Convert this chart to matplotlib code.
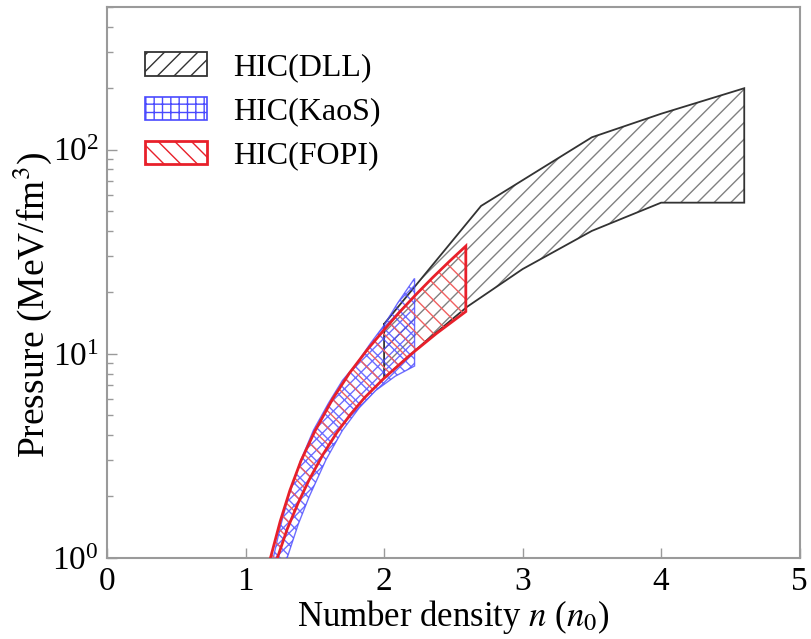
import numpy as np
import matplotlib
matplotlib.use("Agg")
import matplotlib.pyplot as plt
from matplotlib.patches import Patch
from matplotlib.ticker import LogLocator, NullFormatter, NullLocator

plt.rcParams["font.family"] = ["Liberation Serif", "DejaVu Serif"]
plt.rcParams["mathtext.fontset"] = "stix"
plt.rcParams["hatch.linewidth"] = 1.0

# HIC(DLL) band: upper and lower edges (n in n0, P in MeV/fm^3)
dll_n_upper = [2.0, 2.7, 3.5, 4.0, 4.6]
dll_p_upper = [14.0, 53.0, 115.0, 150.0, 200.0]
dll_n_lower = [2.0, 2.3, 2.6, 3.0, 3.5, 4.0, 4.6]
dll_p_lower = [7.6, 11.5, 17.0, 26.0, 40.0, 55.0, 55.0]

# HIC(KaoS) band
kaos_n_upper = [1.2, 1.25, 1.31, 1.4, 1.49, 1.6, 1.7, 1.8, 1.9, 2.0, 2.1, 2.22]
kaos_p_upper = [1.0, 1.41, 2.0, 3.02, 4.22, 5.75, 7.41, 8.91, 11.2, 13.8, 17.8, 23.4]
kaos_n_lower = [1.3, 1.38, 1.46, 1.58, 1.7, 1.82, 1.94, 2.08, 2.22]
kaos_p_lower = [1.0, 1.46, 2.0, 3.02, 4.22, 5.43, 6.61, 7.76, 8.71]

# HIC(FOPI) band
fopi_n_upper = [1.18, 1.25, 1.32, 1.4, 1.5, 1.63, 1.75, 1.88, 2.0, 2.11, 2.23, 2.35, 2.47, 2.59]
fopi_p_upper = [1.0, 1.51, 2.14, 2.99, 4.17, 6.03, 8.04, 10.5, 13.1, 15.96, 19.5, 23.6, 28.3, 33.7]
fopi_n_lower = [1.23, 1.3, 1.38, 1.46, 1.56, 1.66, 1.76, 1.86, 2.0, 2.19, 2.38, 2.59]
fopi_p_lower = [1.0, 1.38, 1.86, 2.42, 3.22, 4.12, 5.07, 6.1, 7.59, 9.89, 12.6, 16.1]

labels = ["HIC(DLL)", "HIC(KaoS)", "HIC(FOPI)"]


def band(ax, nu, pu, nl, pl, hatch, hatch_color, line_color, lw, z,
         alpha=1.0, closed=False):
    xs = list(nu) + list(nl)[::-1]
    ys = list(pu) + list(pl)[::-1]
    # hatch only (hatch takes the edge colour)
    ax.fill(xs, ys, facecolor="none", edgecolor=hatch_color, hatch=hatch,
            linewidth=0, zorder=z, alpha=alpha)
    if closed:
        xs = xs + xs[:1]
        ys = ys + ys[:1]
    # outline: upper edge, right edge, lower edge (left edge if closed)
    ax.plot(xs, ys, color=line_color, lw=lw, zorder=z + 0.5, alpha=alpha,
            solid_joinstyle="miter")


fig = plt.figure(figsize=(8.11, 6.39), dpi=100)
ax = fig.add_axes([0.132, 0.127, 0.854, 0.862])

band(ax, dll_n_upper, dll_p_upper, dll_n_lower, dll_p_lower,
     "//", "#808080", "#333333", 1.3, 2, closed=True)
band(ax, kaos_n_upper, kaos_p_upper, kaos_n_lower, kaos_p_lower,
     "xxx", "#4a4aff", "#4a4aff", 1.0, 3, alpha=0.8)
band(ax, fopi_n_upper, fopi_p_upper, fopi_n_lower, fopi_p_lower,
     "\\\\", "#f06060", "#e8202a", 2.0, 4)

ax.set_yscale("log")
ax.set_xlim(0, 5)
ax.set_ylim(1, 500)

ax.set_xticks([0, 1, 2, 3, 4, 5])
ax.xaxis.set_minor_locator(NullLocator())
ax.yaxis.set_major_locator(LogLocator(base=10, numticks=10))
ax.yaxis.set_minor_locator(LogLocator(base=10, subs=np.arange(2, 10), numticks=20))
ax.yaxis.set_minor_formatter(NullFormatter())

for s in ax.spines.values():
    s.set_color("#9a9a9a")
    s.set_linewidth(1.5)
ax.tick_params(which="both", direction="in", color="#9a9a9a", top=False,
               right=False, labelsize=24, width=1.0)
ax.tick_params(which="major", length=7, pad=6)
ax.tick_params(which="minor", length=4)

ax.set_xlabel(r"Number density $n$ ($n_0$)", fontsize=25, labelpad=1)
ax.set_ylabel(r"Pressure (MeV/fm$^3$)", fontsize=27)
ax.yaxis.set_label_coords(-0.077, 0.46)

handles = [
    Patch(facecolor="none", edgecolor="#333333", hatch="//", linewidth=1.3),
    Patch(facecolor="none", edgecolor="#4a4aff", hatch="++", linewidth=1.2),
    Patch(facecolor="none", edgecolor="#e8202a", hatch="\\\\", linewidth=2.0),
]
ax.legend(handles, labels, loc="upper left", bbox_to_anchor=(0.013, 0.97),
          frameon=False, fontsize=23, handlelength=1.95, handleheight=0.75,
          handletextpad=0.8, labelspacing=0.45)

fig.savefig("out.png", dpi=100)
